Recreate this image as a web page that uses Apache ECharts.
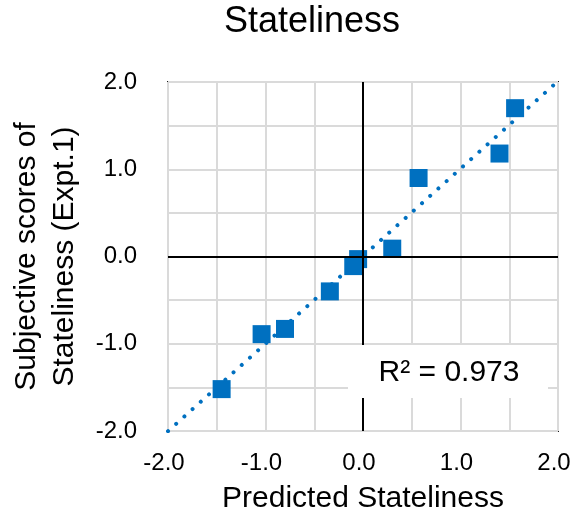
<html>
<head>
    <meta charset="utf-8">
    <title>Stateliness</title>
    <script src="https://cdn.jsdelivr.net/npm/echarts@6.0.0/dist/echarts.min.js"></script>
    <style>
        body { margin: 0; background: #fff; }
        #chartmain { width: 574px; height: 519px; }
    </style>
</head>
<body>
    <div id="chartmain"></div>

    <script type="text/javascript">
        // predicted vs subjective scores
        var predicted = [1.56, 1.40, 0.57, 0.30, -0.05, -0.10, -0.34, -0.80, -1.04, -1.45];
        var subjective = [1.70, 1.18, 0.90, 0.09, -0.03, -0.11, -0.40, -0.83, -0.89, -1.52];
        var tickLabels = [-2, -1, 0, 1, 2];
        var r2Text = 'R² = 0.973';

        var points = predicted.map(function (x, i) { return [x, subjective[i]]; });

        // least squares trendline, like Excel's linear trendline
        var n = predicted.length, mx = 0, my = 0;
        for (var i = 0; i < n; i++) { mx += predicted[i] / n; my += subjective[i] / n; }
        var sxy = 0, sxx = 0;
        for (var i = 0; i < n; i++) {
            sxy += (predicted[i] - mx) * (subjective[i] - my);
            sxx += (predicted[i] - mx) * (predicted[i] - mx);
        }
        var slope = sxy / sxx, icpt = my - slope * mx;
        var trend = [[-2, icpt - 2 * slope], [2, icpt + 2 * slope]];

        function tickFmt(v) {
            return tickLabels.indexOf(v) >= 0 ? v.toFixed(1) : '';
        }

        var font = 'Liberation Sans, Arial, sans-serif';
        var myChart = echarts.init(document.getElementById('chartmain'));
        myChart.setOption({
            animation: false,
            title: {
                text: 'Stateliness',
                left: 312,
                textAlign: 'center',
                top: 4,
                padding: 0,
                textStyle: { fontFamily: font, fontSize: 36, fontWeight: 'normal', color: '#000' }
            },
            grid: {
                left: 168, right: 16, top: 82, bottom: 86,
                show: true, borderColor: '#1a1a1a', borderWidth: 2, backgroundColor: 'transparent'
            },
            xAxis: {
                type: 'value', min: -2, max: 2, interval: 0.5,
                name: 'Predicted Stateliness',
                nameLocation: 'middle', nameGap: 53,
                nameTextStyle: { fontFamily: font, fontSize: 30, color: '#000' },
                axisLine: { show: false },
                axisTick: { show: false },
                axisLabel: { formatter: tickFmt, margin: 20, padding: [0, 8, 0, 0], fontFamily: font, fontSize: 24, color: '#000', showMinLabel: true, showMaxLabel: true },
                splitLine: { lineStyle: { color: '#dadada', width: 2 } }
            },
            yAxis: {
                type: 'value', min: -2, max: 2, interval: 0.5,
                name: 'Subjective scores of\nStateliness (Expt.1)',
                nameLocation: 'middle', nameGap: 84,
                nameTextStyle: { fontFamily: font, fontSize: 30, color: '#000', lineHeight: 38 },
                axisLine: { show: false },
                axisTick: { show: false },
                axisLabel: { formatter: tickFmt, margin: 31, fontFamily: font, fontSize: 24, color: '#000', showMinLabel: true, showMaxLabel: true },
                splitLine: { lineStyle: { color: '#dadada', width: 2 } }
            },
            series: [
                {
                    name: 'trend',
                    type: 'line',
                    data: trend,
                    z: 2,
                    symbol: 'none',
                    silent: true,
                    lineStyle: { color: '#0070C0', width: 4, type: [0.01, 11], cap: 'round' },
                    markLine: {
                        silent: true,
                        symbol: 'none',
                        label: { show: false },
                        lineStyle: { color: '#000', type: 'solid', width: 2 },
                        data: [{ xAxis: 0 }, { yAxis: 0 }]
                    }
                },
                {
                    name: 'scores',
                    type: 'scatter',
                    data: points,
                    z: 3,
                    symbol: 'rect',
                    symbolSize: 18,
                    itemStyle: { color: '#0070C0', opacity: 1 }
                }
            ],
            graphic: [
                {
                    type: 'rect', z: 100,
                    shape: { x: 348, y: 345, width: 200, height: 53 },
                    style: { fill: '#fff' }
                },
                {
                    type: 'text', z: 101,
                    x: 449, y: 373,
                    style: {
                        text: r2Text, fill: '#000',
                        font: '30px ' + font,
                        textAlign: 'center', textVerticalAlign: 'middle'
                    }
                }
            ]
        });
    </script>
</body>
</html>
